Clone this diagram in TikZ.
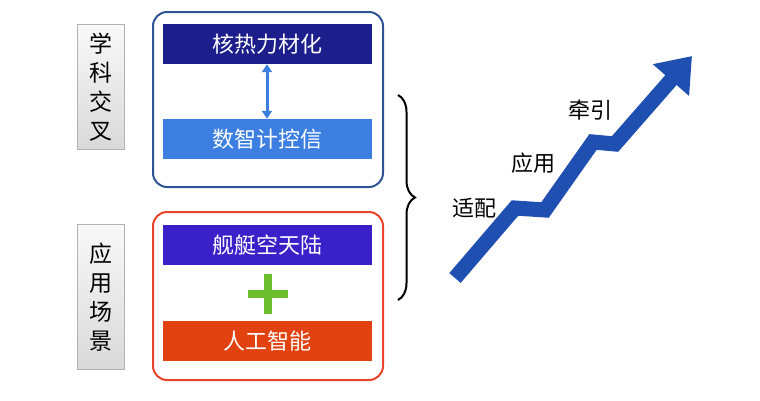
\documentclass[tikz,border=0pt]{standalone}
\usepackage{fontspec}
\setmainfont{Noto Sans CJK SC}
\usetikzlibrary{arrows.meta,decorations.pathreplacing}
\definecolor{navy}{HTML}{1C1E8C}
\definecolor{midblue}{HTML}{3C7FE0}
\definecolor{violet}{HTML}{3A20C8}
\definecolor{orred}{HTML}{E2420F}
\definecolor{frameblue}{HTML}{2F5496}
\definecolor{framered}{HTML}{E8442A}
\definecolor{arrowblue}{HTML}{1F4FB0}
\definecolor{plusgreen}{HTML}{6DBE2E}
\tikzset{
  vlabel/.style={draw=gray!60, top color=gray!5, bottom color=gray!30, minimum width=47pt, align=center, font=\fontsize{23}{29}\selectfont, inner sep=0pt},
  bar/.style={minimum width=209pt, minimum height=40pt, text=white, font=\fontsize{22}{26}\selectfont, inner sep=0pt},
  frame/.style={rounded corners=14pt, line width=2pt, fill=white},
  lbl/.style={font=\fontsize{22}{26}\selectfont}
}
\begin{document}
\begin{tikzpicture}[x=1pt,y=-1pt]
\useasboundingbox (0,0) rectangle (760,400);
\node[vlabel, minimum height=125pt] (l1) at (101,87) {学\\科\\交\\叉};
\node[vlabel, minimum height=145pt] (l2) at (101,297) {应\\用\\场\\景};
\draw[frame, draw=frameblue] (153,12) rectangle (383,187);
\draw[frame, draw=framered] (153,212) rectangle (383,380);
\node[bar, fill=navy] (a) at (267,44) {核热力材化};
\node[bar, fill=midblue] (b) at (267,139) {数智计控信};
\draw[{Triangle[length=8pt,width=10pt]}-{Triangle[length=8pt,width=10pt]}, line width=3pt, midblue] (a.south) -- (b.north);
\node[bar, fill=violet] (c) at (267,245) {舰艇空天陆};
\node[bar, fill=orred] (d) at (267,341) {人工智能};
\node (plus) at (268,294) {};
\draw[line width=8pt, plusgreen] (248,294) -- (288,294) (268,274) -- (268,314);
\draw[decorate, decoration={brace, amplitude=17pt}, line width=2pt] (398,95) -- (398,300);
\coordinate (s0) at (455,278);
\coordinate (s1) at (515,208);
\coordinate (s2) at (545,210);
\coordinate (s3) at (593,142);
\coordinate (s4) at (615,144);
\coordinate (s5) at (692,56);
\draw[line width=15pt, arrowblue, line join=miter, -{Triangle[length=32pt,width=46pt]}] (s0) -- (s1) -- (s2) -- (s3) -- (s4) -- (s5);
\node[lbl] (t1) at (474,208) {适配};
\node[lbl] (t2) at (533,163) {应用};
\node[lbl] (t3) at (590,110) {牵引};
\end{tikzpicture}
\end{document}
